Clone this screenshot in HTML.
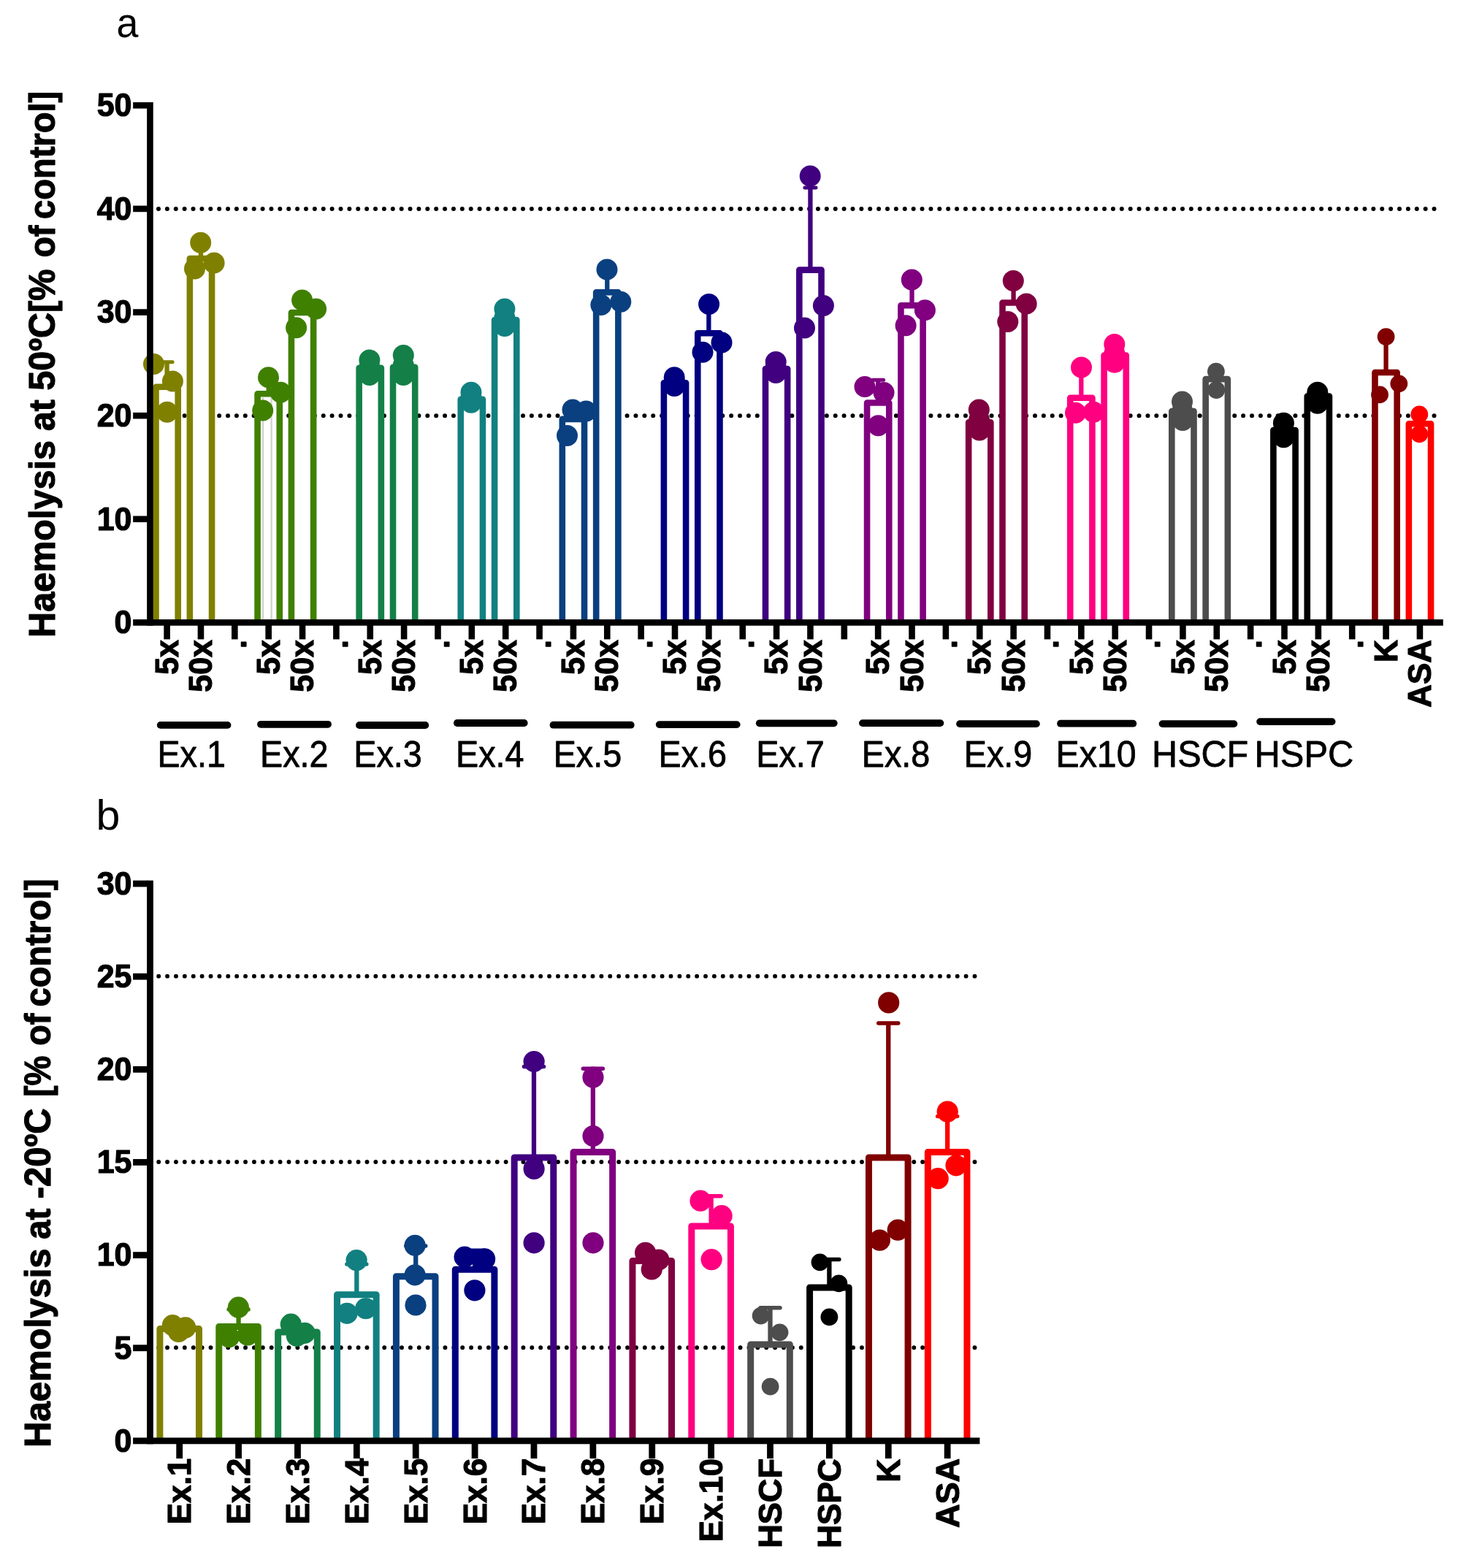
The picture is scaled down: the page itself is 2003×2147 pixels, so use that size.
<!DOCTYPE html>
<html lang="en">
<head>
<meta charset="utf-8">
<title>Haemolysis figure</title>
<style>
html,body{margin:0;padding:0;background:#fff;}
body{width:2003px;height:2147px;overflow:hidden;}
svg{display:block;}
text{font-kerning:none;}
</style>
</head>
<body>
<svg width="2003" height="2147" viewBox="0 0 2003 2147" font-family="'Liberation Sans', sans-serif" fill="#000">
<rect x="0" y="0" width="2003" height="2147" fill="#fff"/>
<text transform="translate(159.62,51.00) scale(0.9344,1)" font-size="57.5" text-anchor="start" >a</text>
<text transform="translate(131.39,1136.10) scale(1.0287,1)" font-size="57.5" text-anchor="start" >b</text>
<line x1="217.00" y1="285.92" x2="1966.00" y2="285.92" stroke="#000" stroke-width="6.0" stroke-linecap="round" stroke-dasharray="0 11.881"/>
<line x1="217.00" y1="569.16" x2="1966.00" y2="569.16" stroke="#000" stroke-width="6.0" stroke-linecap="round" stroke-dasharray="0 11.881"/>
<path d="M213.50,852.40 V529.70 H243.70 V852.40" fill="#fff" stroke="#808000" stroke-width="8.6" stroke-linejoin="round"/>
<path d="M228.60,529.70 V495.80" fill="none" stroke="#808000" stroke-width="6.3"/>
<path d="M221.10,495.80 H236.10" fill="none" stroke="#808000" stroke-width="5.0" stroke-linecap="round"/>
<circle cx="210.50" cy="498.40" r="14.5" fill="#808000"/>
<circle cx="236.40" cy="522.10" r="14.5" fill="#808000"/>
<circle cx="228.80" cy="564.20" r="14.5" fill="#808000"/>
<path d="M259.86,852.40 V354.10 H290.06 V852.40" fill="#fff" stroke="#808000" stroke-width="8.6" stroke-linejoin="round"/>
<path d="M274.96,354.10 V336.00" fill="none" stroke="#808000" stroke-width="6.3"/>
<path d="M267.46,336.00 H282.46" fill="none" stroke="#808000" stroke-width="5.0" stroke-linecap="round"/>
<circle cx="274.70" cy="332.30" r="14.5" fill="#808000"/>
<circle cx="266.50" cy="367.90" r="14.5" fill="#808000"/>
<circle cx="293.10" cy="359.90" r="14.5" fill="#808000"/>
<path d="M352.58,852.40 V539.30 H382.78 V852.40" fill="#fff" stroke="#408000" stroke-width="8.6" stroke-linejoin="round"/>
<rect x="359.0" y="543.30" width="2.2" height="305.10" fill="#d2d2d2"/>
<rect x="370.4" y="543.30" width="2.4" height="305.10" fill="#d2d2d2"/>
<path d="M367.68,539.30 V519.00" fill="none" stroke="#408000" stroke-width="6.3"/>
<path d="M360.18,519.00 H375.18" fill="none" stroke="#408000" stroke-width="5.0" stroke-linecap="round"/>
<circle cx="367.50" cy="516.70" r="14.5" fill="#408000"/>
<circle cx="359.70" cy="562.00" r="14.5" fill="#408000"/>
<circle cx="384.10" cy="537.20" r="14.5" fill="#408000"/>
<path d="M398.94,852.40 V428.00 H429.14 V852.40" fill="#fff" stroke="#408000" stroke-width="8.6" stroke-linejoin="round"/>
<path d="M414.04,428.00 V414.00" fill="none" stroke="#408000" stroke-width="6.3"/>
<path d="M406.54,414.00 H421.54" fill="none" stroke="#408000" stroke-width="5.0" stroke-linecap="round"/>
<circle cx="413.60" cy="411.00" r="14.5" fill="#408000"/>
<circle cx="405.60" cy="448.80" r="14.5" fill="#408000"/>
<circle cx="432.60" cy="422.90" r="14.5" fill="#408000"/>
<path d="M491.66,852.40 V503.80 H521.86 V852.40" fill="#fff" stroke="#148048" stroke-width="8.6" stroke-linejoin="round"/>
<circle cx="505.90" cy="493.00" r="14.5" fill="#148048"/>
<circle cx="505.90" cy="503.00" r="14.5" fill="#148048"/>
<circle cx="505.90" cy="513.50" r="14.5" fill="#148048"/>
<path d="M538.02,852.40 V502.70 H568.22 V852.40" fill="#fff" stroke="#148048" stroke-width="8.6" stroke-linejoin="round"/>
<circle cx="552.30" cy="486.50" r="14.5" fill="#148048"/>
<circle cx="552.30" cy="500.00" r="14.5" fill="#148048"/>
<circle cx="552.30" cy="513.50" r="14.5" fill="#148048"/>
<path d="M630.74,852.40 V546.90 H660.94 V852.40" fill="#fff" stroke="#128080" stroke-width="8.6" stroke-linejoin="round"/>
<circle cx="645.00" cy="537.20" r="14.5" fill="#128080"/>
<circle cx="645.00" cy="544.00" r="14.5" fill="#128080"/>
<circle cx="645.00" cy="551.20" r="14.5" fill="#128080"/>
<path d="M677.10,852.40 V438.00 H707.30 V852.40" fill="#fff" stroke="#128080" stroke-width="8.6" stroke-linejoin="round"/>
<circle cx="690.90" cy="422.90" r="14.5" fill="#128080"/>
<circle cx="690.90" cy="435.00" r="14.5" fill="#128080"/>
<circle cx="690.90" cy="446.60" r="14.5" fill="#128080"/>
<path d="M769.82,852.40 V573.90 H800.02 V852.40" fill="#fff" stroke="#0A4080" stroke-width="8.6" stroke-linejoin="round"/>
<circle cx="784.00" cy="560.90" r="14.5" fill="#0A4080"/>
<circle cx="802.40" cy="563.00" r="14.5" fill="#0A4080"/>
<circle cx="776.50" cy="596.50" r="14.5" fill="#0A4080"/>
<path d="M816.18,852.40 V400.30 H846.38 V852.40" fill="#fff" stroke="#0A4080" stroke-width="8.6" stroke-linejoin="round"/>
<path d="M831.28,400.30 V369.00" fill="none" stroke="#0A4080" stroke-width="6.3"/>
<path d="M823.78,369.00 H838.78" fill="none" stroke="#0A4080" stroke-width="5.0" stroke-linecap="round"/>
<circle cx="831.00" cy="369.00" r="14.5" fill="#0A4080"/>
<circle cx="822.90" cy="417.50" r="14.5" fill="#0A4080"/>
<circle cx="849.80" cy="413.20" r="14.5" fill="#0A4080"/>
<path d="M908.90,852.40 V524.30 H939.10 V852.40" fill="#fff" stroke="#000080" stroke-width="8.6" stroke-linejoin="round"/>
<circle cx="923.20" cy="516.70" r="14.5" fill="#000080"/>
<circle cx="923.20" cy="522.00" r="14.5" fill="#000080"/>
<circle cx="923.20" cy="528.60" r="14.5" fill="#000080"/>
<path d="M955.26,852.40 V456.30 H985.46 V852.40" fill="#fff" stroke="#000080" stroke-width="8.6" stroke-linejoin="round"/>
<path d="M970.36,456.30 V416.40" fill="none" stroke="#000080" stroke-width="6.3"/>
<path d="M962.86,416.40 H977.86" fill="none" stroke="#000080" stroke-width="5.0" stroke-linecap="round"/>
<circle cx="970.60" cy="416.40" r="14.5" fill="#000080"/>
<circle cx="962.00" cy="482.20" r="14.5" fill="#000080"/>
<circle cx="988.00" cy="469.00" r="14.5" fill="#000080"/>
<path d="M1047.98,852.40 V505.10 H1078.18 V852.40" fill="#fff" stroke="#400080" stroke-width="8.6" stroke-linejoin="round"/>
<circle cx="1062.20" cy="495.40" r="14.5" fill="#400080"/>
<circle cx="1062.20" cy="503.00" r="14.5" fill="#400080"/>
<circle cx="1062.20" cy="510.50" r="14.5" fill="#400080"/>
<path d="M1094.34,852.40 V369.60 H1124.54 V852.40" fill="#fff" stroke="#400080" stroke-width="8.6" stroke-linejoin="round"/>
<path d="M1109.44,369.60 V257.10" fill="none" stroke="#400080" stroke-width="6.3"/>
<path d="M1101.94,257.10 H1116.94" fill="none" stroke="#400080" stroke-width="5.0" stroke-linecap="round"/>
<circle cx="1109.20" cy="241.00" r="14.5" fill="#400080"/>
<circle cx="1127.40" cy="418.40" r="14.5" fill="#400080"/>
<circle cx="1101.50" cy="449.00" r="14.5" fill="#400080"/>
<path d="M1187.06,852.40 V551.50 H1217.26 V852.40" fill="#fff" stroke="#800080" stroke-width="8.6" stroke-linejoin="round"/>
<path d="M1202.16,551.50 V520.20" fill="none" stroke="#800080" stroke-width="6.3"/>
<path d="M1194.66,520.20 H1209.66" fill="none" stroke="#800080" stroke-width="5.0" stroke-linecap="round"/>
<circle cx="1184.00" cy="529.50" r="14.5" fill="#800080"/>
<circle cx="1210.00" cy="537.50" r="14.5" fill="#800080"/>
<circle cx="1202.40" cy="582.80" r="14.5" fill="#800080"/>
<path d="M1233.42,852.40 V418.30 H1263.62 V852.40" fill="#fff" stroke="#800080" stroke-width="8.6" stroke-linejoin="round"/>
<path d="M1248.52,418.30 V383.00" fill="none" stroke="#800080" stroke-width="6.3"/>
<path d="M1241.02,383.00 H1256.02" fill="none" stroke="#800080" stroke-width="5.0" stroke-linecap="round"/>
<circle cx="1248.30" cy="382.90" r="14.5" fill="#800080"/>
<circle cx="1240.10" cy="445.80" r="14.5" fill="#800080"/>
<circle cx="1266.40" cy="424.70" r="14.5" fill="#800080"/>
<path d="M1326.14,852.40 V578.20 H1356.34 V852.40" fill="#fff" stroke="#800040" stroke-width="8.6" stroke-linejoin="round"/>
<circle cx="1340.30" cy="560.90" r="14.5" fill="#800040"/>
<circle cx="1340.60" cy="575.00" r="14.5" fill="#800040"/>
<circle cx="1341.00" cy="589.00" r="14.5" fill="#800040"/>
<path d="M1372.50,852.40 V414.50 H1402.70 V852.40" fill="#fff" stroke="#800040" stroke-width="8.6" stroke-linejoin="round"/>
<path d="M1387.60,414.50 V385.00" fill="none" stroke="#800040" stroke-width="6.3"/>
<path d="M1380.10,385.00 H1395.10" fill="none" stroke="#800040" stroke-width="5.0" stroke-linecap="round"/>
<circle cx="1387.30" cy="384.50" r="14.5" fill="#800040"/>
<circle cx="1379.80" cy="440.60" r="14.5" fill="#800040"/>
<circle cx="1405.20" cy="416.00" r="14.5" fill="#800040"/>
<path d="M1465.22,852.40 V544.70 H1495.42 V852.40" fill="#fff" stroke="#FF0080" stroke-width="8.6" stroke-linejoin="round"/>
<path d="M1480.32,544.70 V503.00" fill="none" stroke="#FF0080" stroke-width="6.3"/>
<path d="M1472.82,503.00 H1487.82" fill="none" stroke="#FF0080" stroke-width="5.0" stroke-linecap="round"/>
<circle cx="1480.50" cy="503.10" r="14.5" fill="#FF0080"/>
<circle cx="1472.50" cy="565.20" r="14.5" fill="#FF0080"/>
<circle cx="1497.30" cy="564.20" r="14.5" fill="#FF0080"/>
<path d="M1511.58,852.40 V486.50 H1541.78 V852.40" fill="#fff" stroke="#FF0080" stroke-width="8.6" stroke-linejoin="round"/>
<circle cx="1525.80" cy="471.40" r="14.5" fill="#FF0080"/>
<circle cx="1525.80" cy="484.00" r="14.5" fill="#FF0080"/>
<circle cx="1525.80" cy="496.20" r="14.5" fill="#FF0080"/>
<path d="M1604.30,852.40 V563.10 H1634.50 V852.40" fill="#fff" stroke="#4D4D4D" stroke-width="8.6" stroke-linejoin="round"/>
<circle cx="1618.50" cy="550.10" r="14.5" fill="#4D4D4D"/>
<circle cx="1618.80" cy="563.00" r="14.5" fill="#4D4D4D"/>
<circle cx="1619.20" cy="575.50" r="14.5" fill="#4D4D4D"/>
<path d="M1650.66,852.40 V519.10 H1680.86 V852.40" fill="#fff" stroke="#4D4D4D" stroke-width="8.6" stroke-linejoin="round"/>
<circle cx="1664.90" cy="508.70" r="11.9" fill="#4D4D4D"/>
<circle cx="1665.30" cy="534.00" r="11.9" fill="#4D4D4D"/>
<path d="M1743.38,852.40 V589.00 H1773.58 V852.40" fill="#fff" stroke="#000000" stroke-width="8.6" stroke-linejoin="round"/>
<circle cx="1757.40" cy="579.20" r="14.5" fill="#000000"/>
<circle cx="1757.40" cy="589.00" r="14.5" fill="#000000"/>
<circle cx="1757.40" cy="598.70" r="14.5" fill="#000000"/>
<path d="M1789.74,852.40 V542.60 H1819.94 V852.40" fill="#fff" stroke="#000000" stroke-width="8.6" stroke-linejoin="round"/>
<circle cx="1803.80" cy="537.20" r="14.5" fill="#000000"/>
<circle cx="1803.80" cy="545.00" r="14.5" fill="#000000"/>
<circle cx="1803.80" cy="552.30" r="14.5" fill="#000000"/>
<path d="M1882.46,852.40 V510.00 H1912.66 V852.40" fill="#fff" stroke="#800000" stroke-width="8.6" stroke-linejoin="round"/>
<path d="M1897.56,510.00 V461.00" fill="none" stroke="#800000" stroke-width="6.3"/>
<path d="M1890.06,461.00 H1905.06" fill="none" stroke="#800000" stroke-width="5.0" stroke-linecap="round"/>
<circle cx="1897.60" cy="461.10" r="11.9" fill="#800000"/>
<circle cx="1915.30" cy="525.30" r="11.9" fill="#800000"/>
<circle cx="1889.00" cy="540.40" r="11.9" fill="#800000"/>
<path d="M1928.82,852.40 V580.30 H1959.02 V852.40" fill="#fff" stroke="#FF0000" stroke-width="8.6" stroke-linejoin="round"/>
<circle cx="1943.30" cy="567.40" r="11.9" fill="#FF0000"/>
<circle cx="1943.30" cy="594.30" r="11.9" fill="#FF0000"/>
<rect x="201.15" y="140.00" width="8.6" height="716.70" fill="#000"/>
<rect x="182.15" y="848.10" width="1793.65" height="8.6" fill="#000"/>
<rect x="182.15" y="706.48" width="20.0" height="8.6" fill="#000"/>
<rect x="182.15" y="564.86" width="20.0" height="8.6" fill="#000"/>
<rect x="182.15" y="423.24" width="20.0" height="8.6" fill="#000"/>
<rect x="182.15" y="281.62" width="20.0" height="8.6" fill="#000"/>
<rect x="182.15" y="140.00" width="20.0" height="8.6" fill="#000"/>
<text transform="translate(180.50,867.20) scale(0.963,1)" font-size="44.6" font-weight="bold" stroke="#000" stroke-width="1.2" stroke-linejoin="round" text-anchor="end" >0</text>
<text transform="translate(180.50,725.58) scale(0.963,1)" font-size="44.6" font-weight="bold" stroke="#000" stroke-width="1.2" stroke-linejoin="round" text-anchor="end" >10</text>
<text transform="translate(180.50,583.96) scale(0.963,1)" font-size="44.6" font-weight="bold" stroke="#000" stroke-width="1.2" stroke-linejoin="round" text-anchor="end" >20</text>
<text transform="translate(180.50,442.34) scale(0.963,1)" font-size="44.6" font-weight="bold" stroke="#000" stroke-width="1.2" stroke-linejoin="round" text-anchor="end" >30</text>
<text transform="translate(180.50,300.72) scale(0.963,1)" font-size="44.6" font-weight="bold" stroke="#000" stroke-width="1.2" stroke-linejoin="round" text-anchor="end" >40</text>
<text transform="translate(180.50,159.10) scale(0.963,1)" font-size="44.6" font-weight="bold" stroke="#000" stroke-width="1.2" stroke-linejoin="round" text-anchor="end" >50</text>
<rect x="224.30" y="852.40" width="8.6" height="23.0" fill="#000"/>
<rect x="270.66" y="852.40" width="8.6" height="23.0" fill="#000"/>
<rect x="317.02" y="852.40" width="8.6" height="23.0" fill="#000"/>
<rect x="363.38" y="852.40" width="8.6" height="23.0" fill="#000"/>
<rect x="409.74" y="852.40" width="8.6" height="23.0" fill="#000"/>
<rect x="456.10" y="852.40" width="8.6" height="23.0" fill="#000"/>
<rect x="502.46" y="852.40" width="8.6" height="23.0" fill="#000"/>
<rect x="548.82" y="852.40" width="8.6" height="23.0" fill="#000"/>
<rect x="595.18" y="852.40" width="8.6" height="23.0" fill="#000"/>
<rect x="641.54" y="852.40" width="8.6" height="23.0" fill="#000"/>
<rect x="687.90" y="852.40" width="8.6" height="23.0" fill="#000"/>
<rect x="734.26" y="852.40" width="8.6" height="23.0" fill="#000"/>
<rect x="780.62" y="852.40" width="8.6" height="23.0" fill="#000"/>
<rect x="826.98" y="852.40" width="8.6" height="23.0" fill="#000"/>
<rect x="873.34" y="852.40" width="8.6" height="23.0" fill="#000"/>
<rect x="919.70" y="852.40" width="8.6" height="23.0" fill="#000"/>
<rect x="966.06" y="852.40" width="8.6" height="23.0" fill="#000"/>
<rect x="1012.42" y="852.40" width="8.6" height="23.0" fill="#000"/>
<rect x="1058.78" y="852.40" width="8.6" height="23.0" fill="#000"/>
<rect x="1105.14" y="852.40" width="8.6" height="23.0" fill="#000"/>
<rect x="1151.50" y="852.40" width="8.6" height="23.0" fill="#000"/>
<rect x="1197.86" y="852.40" width="8.6" height="23.0" fill="#000"/>
<rect x="1244.22" y="852.40" width="8.6" height="23.0" fill="#000"/>
<rect x="1290.58" y="852.40" width="8.6" height="23.0" fill="#000"/>
<rect x="1336.94" y="852.40" width="8.6" height="23.0" fill="#000"/>
<rect x="1383.30" y="852.40" width="8.6" height="23.0" fill="#000"/>
<rect x="1429.66" y="852.40" width="8.6" height="23.0" fill="#000"/>
<rect x="1476.02" y="852.40" width="8.6" height="23.0" fill="#000"/>
<rect x="1522.38" y="852.40" width="8.6" height="23.0" fill="#000"/>
<rect x="1568.74" y="852.40" width="8.6" height="23.0" fill="#000"/>
<rect x="1615.10" y="852.40" width="8.6" height="23.0" fill="#000"/>
<rect x="1661.46" y="852.40" width="8.6" height="23.0" fill="#000"/>
<rect x="1707.82" y="852.40" width="8.6" height="23.0" fill="#000"/>
<rect x="1754.18" y="852.40" width="8.6" height="23.0" fill="#000"/>
<rect x="1800.54" y="852.40" width="8.6" height="23.0" fill="#000"/>
<rect x="1846.90" y="852.40" width="8.6" height="23.0" fill="#000"/>
<rect x="1893.26" y="852.40" width="8.6" height="23.0" fill="#000"/>
<rect x="1939.62" y="852.40" width="8.6" height="23.0" fill="#000"/>
<text transform="translate(243.80,876.10) rotate(-90) scale(0.963,1)" font-size="44.6" font-weight="bold" stroke="#000" stroke-width="1.2" stroke-linejoin="round" text-anchor="end" >5x</text>
<text transform="translate(290.16,876.10) rotate(-90) scale(0.963,1)" font-size="44.6" font-weight="bold" stroke="#000" stroke-width="1.2" stroke-linejoin="round" text-anchor="end" >50x</text>
<text transform="translate(336.52,876.10) rotate(-90) scale(0.963,1)" font-size="44.6" font-weight="bold" stroke="#000" stroke-width="1.2" stroke-linejoin="round" text-anchor="end" >.</text>
<text transform="translate(382.88,876.10) rotate(-90) scale(0.963,1)" font-size="44.6" font-weight="bold" stroke="#000" stroke-width="1.2" stroke-linejoin="round" text-anchor="end" >5x</text>
<text transform="translate(429.24,876.10) rotate(-90) scale(0.963,1)" font-size="44.6" font-weight="bold" stroke="#000" stroke-width="1.2" stroke-linejoin="round" text-anchor="end" >50x</text>
<text transform="translate(475.60,876.10) rotate(-90) scale(0.963,1)" font-size="44.6" font-weight="bold" stroke="#000" stroke-width="1.2" stroke-linejoin="round" text-anchor="end" >.</text>
<text transform="translate(521.96,876.10) rotate(-90) scale(0.963,1)" font-size="44.6" font-weight="bold" stroke="#000" stroke-width="1.2" stroke-linejoin="round" text-anchor="end" >5x</text>
<text transform="translate(568.32,876.10) rotate(-90) scale(0.963,1)" font-size="44.6" font-weight="bold" stroke="#000" stroke-width="1.2" stroke-linejoin="round" text-anchor="end" >50x</text>
<text transform="translate(614.68,876.10) rotate(-90) scale(0.963,1)" font-size="44.6" font-weight="bold" stroke="#000" stroke-width="1.2" stroke-linejoin="round" text-anchor="end" >.</text>
<text transform="translate(661.04,876.10) rotate(-90) scale(0.963,1)" font-size="44.6" font-weight="bold" stroke="#000" stroke-width="1.2" stroke-linejoin="round" text-anchor="end" >5x</text>
<text transform="translate(707.40,876.10) rotate(-90) scale(0.963,1)" font-size="44.6" font-weight="bold" stroke="#000" stroke-width="1.2" stroke-linejoin="round" text-anchor="end" >50x</text>
<text transform="translate(753.76,876.10) rotate(-90) scale(0.963,1)" font-size="44.6" font-weight="bold" stroke="#000" stroke-width="1.2" stroke-linejoin="round" text-anchor="end" >.</text>
<text transform="translate(800.12,876.10) rotate(-90) scale(0.963,1)" font-size="44.6" font-weight="bold" stroke="#000" stroke-width="1.2" stroke-linejoin="round" text-anchor="end" >5x</text>
<text transform="translate(846.48,876.10) rotate(-90) scale(0.963,1)" font-size="44.6" font-weight="bold" stroke="#000" stroke-width="1.2" stroke-linejoin="round" text-anchor="end" >50x</text>
<text transform="translate(892.84,876.10) rotate(-90) scale(0.963,1)" font-size="44.6" font-weight="bold" stroke="#000" stroke-width="1.2" stroke-linejoin="round" text-anchor="end" >.</text>
<text transform="translate(939.20,876.10) rotate(-90) scale(0.963,1)" font-size="44.6" font-weight="bold" stroke="#000" stroke-width="1.2" stroke-linejoin="round" text-anchor="end" >5x</text>
<text transform="translate(985.56,876.10) rotate(-90) scale(0.963,1)" font-size="44.6" font-weight="bold" stroke="#000" stroke-width="1.2" stroke-linejoin="round" text-anchor="end" >50x</text>
<text transform="translate(1031.92,876.10) rotate(-90) scale(0.963,1)" font-size="44.6" font-weight="bold" stroke="#000" stroke-width="1.2" stroke-linejoin="round" text-anchor="end" >.</text>
<text transform="translate(1078.28,876.10) rotate(-90) scale(0.963,1)" font-size="44.6" font-weight="bold" stroke="#000" stroke-width="1.2" stroke-linejoin="round" text-anchor="end" >5x</text>
<text transform="translate(1124.64,876.10) rotate(-90) scale(0.963,1)" font-size="44.6" font-weight="bold" stroke="#000" stroke-width="1.2" stroke-linejoin="round" text-anchor="end" >50x</text>
<text transform="translate(1217.36,876.10) rotate(-90) scale(0.963,1)" font-size="44.6" font-weight="bold" stroke="#000" stroke-width="1.2" stroke-linejoin="round" text-anchor="end" >5x</text>
<text transform="translate(1263.72,876.10) rotate(-90) scale(0.963,1)" font-size="44.6" font-weight="bold" stroke="#000" stroke-width="1.2" stroke-linejoin="round" text-anchor="end" >50x</text>
<text transform="translate(1310.08,876.10) rotate(-90) scale(0.963,1)" font-size="44.6" font-weight="bold" stroke="#000" stroke-width="1.2" stroke-linejoin="round" text-anchor="end" >.</text>
<text transform="translate(1356.44,876.10) rotate(-90) scale(0.963,1)" font-size="44.6" font-weight="bold" stroke="#000" stroke-width="1.2" stroke-linejoin="round" text-anchor="end" >5x</text>
<text transform="translate(1402.80,876.10) rotate(-90) scale(0.963,1)" font-size="44.6" font-weight="bold" stroke="#000" stroke-width="1.2" stroke-linejoin="round" text-anchor="end" >50x</text>
<text transform="translate(1449.16,876.10) rotate(-90) scale(0.963,1)" font-size="44.6" font-weight="bold" stroke="#000" stroke-width="1.2" stroke-linejoin="round" text-anchor="end" >.</text>
<text transform="translate(1495.52,876.10) rotate(-90) scale(0.963,1)" font-size="44.6" font-weight="bold" stroke="#000" stroke-width="1.2" stroke-linejoin="round" text-anchor="end" >5x</text>
<text transform="translate(1541.88,876.10) rotate(-90) scale(0.963,1)" font-size="44.6" font-weight="bold" stroke="#000" stroke-width="1.2" stroke-linejoin="round" text-anchor="end" >50x</text>
<text transform="translate(1588.24,876.10) rotate(-90) scale(0.963,1)" font-size="44.6" font-weight="bold" stroke="#000" stroke-width="1.2" stroke-linejoin="round" text-anchor="end" >.</text>
<text transform="translate(1634.60,876.10) rotate(-90) scale(0.963,1)" font-size="44.6" font-weight="bold" stroke="#000" stroke-width="1.2" stroke-linejoin="round" text-anchor="end" >5x</text>
<text transform="translate(1680.96,876.10) rotate(-90) scale(0.963,1)" font-size="44.6" font-weight="bold" stroke="#000" stroke-width="1.2" stroke-linejoin="round" text-anchor="end" >50x</text>
<text transform="translate(1727.32,876.10) rotate(-90) scale(0.963,1)" font-size="44.6" font-weight="bold" stroke="#000" stroke-width="1.2" stroke-linejoin="round" text-anchor="end" >.</text>
<text transform="translate(1773.68,876.10) rotate(-90) scale(0.963,1)" font-size="44.6" font-weight="bold" stroke="#000" stroke-width="1.2" stroke-linejoin="round" text-anchor="end" >5x</text>
<text transform="translate(1820.04,876.10) rotate(-90) scale(0.963,1)" font-size="44.6" font-weight="bold" stroke="#000" stroke-width="1.2" stroke-linejoin="round" text-anchor="end" >50x</text>
<text transform="translate(1866.40,876.10) rotate(-90) scale(0.963,1)" font-size="44.6" font-weight="bold" stroke="#000" stroke-width="1.2" stroke-linejoin="round" text-anchor="end" >.</text>
<text transform="translate(1912.76,876.10) rotate(-90) scale(0.963,1)" font-size="44.6" font-weight="bold" stroke="#000" stroke-width="1.2" stroke-linejoin="round" text-anchor="end" >K</text>
<text transform="translate(1959.12,876.10) rotate(-90) scale(0.985,1)" font-size="44.6" font-weight="bold" stroke="#000" stroke-width="1.2" stroke-linejoin="round" text-anchor="end" >ASA</text>
<line x1="219.70" y1="992.90" x2="311.50" y2="992.90" stroke="#000" stroke-width="9.8" stroke-linecap="round"/>
<text transform="translate(215.40,1049.60) scale(0.92,1)" font-size="50.8" stroke="#000" stroke-width="0.8" stroke-linejoin="round" text-anchor="start" >Ex.1</text>
<line x1="357.00" y1="991.80" x2="449.00" y2="991.80" stroke="#000" stroke-width="9.8" stroke-linecap="round"/>
<text transform="translate(356.00,1049.60) scale(0.92,1)" font-size="50.8" stroke="#000" stroke-width="0.8" stroke-linejoin="round" text-anchor="start" >Ex.2</text>
<line x1="492.00" y1="993.00" x2="582.30" y2="993.00" stroke="#000" stroke-width="9.8" stroke-linecap="round"/>
<text transform="translate(484.30,1049.60) scale(0.92,1)" font-size="50.8" stroke="#000" stroke-width="0.8" stroke-linejoin="round" text-anchor="start" >Ex.3</text>
<line x1="625.90" y1="990.00" x2="717.70" y2="990.00" stroke="#000" stroke-width="9.8" stroke-linecap="round"/>
<text transform="translate(624.00,1049.60) scale(0.92,1)" font-size="50.8" stroke="#000" stroke-width="0.8" stroke-linejoin="round" text-anchor="start" >Ex.4</text>
<line x1="757.50" y1="992.70" x2="863.70" y2="992.70" stroke="#000" stroke-width="9.8" stroke-linecap="round"/>
<text transform="translate(757.70,1049.60) scale(0.92,1)" font-size="50.8" stroke="#000" stroke-width="0.8" stroke-linejoin="round" text-anchor="start" >Ex.5</text>
<line x1="902.70" y1="992.10" x2="1008.70" y2="992.10" stroke="#000" stroke-width="9.8" stroke-linecap="round"/>
<text transform="translate(901.60,1049.60) scale(0.92,1)" font-size="50.8" stroke="#000" stroke-width="0.8" stroke-linejoin="round" text-anchor="start" >Ex.6</text>
<line x1="1039.80" y1="990.30" x2="1141.70" y2="990.30" stroke="#000" stroke-width="9.8" stroke-linecap="round"/>
<text transform="translate(1035.30,1049.60) scale(0.92,1)" font-size="50.8" stroke="#000" stroke-width="0.8" stroke-linejoin="round" text-anchor="start" >Ex.7</text>
<line x1="1180.90" y1="990.10" x2="1287.40" y2="990.10" stroke="#000" stroke-width="9.8" stroke-linecap="round"/>
<text transform="translate(1179.80,1049.60) scale(0.92,1)" font-size="50.8" stroke="#000" stroke-width="0.8" stroke-linejoin="round" text-anchor="start" >Ex.8</text>
<line x1="1314.00" y1="991.10" x2="1418.90" y2="991.10" stroke="#000" stroke-width="9.8" stroke-linecap="round"/>
<text transform="translate(1319.80,1049.60) scale(0.92,1)" font-size="50.8" stroke="#000" stroke-width="0.8" stroke-linejoin="round" text-anchor="start" >Ex.9</text>
<line x1="1452.00" y1="990.70" x2="1551.30" y2="990.70" stroke="#000" stroke-width="9.8" stroke-linecap="round"/>
<text transform="translate(1445.50,1049.60) scale(0.95,1)" font-size="50.8" stroke="#000" stroke-width="0.8" stroke-linejoin="round" text-anchor="start" >Ex10</text>
<line x1="1591.50" y1="991.10" x2="1689.40" y2="991.10" stroke="#000" stroke-width="9.8" stroke-linecap="round"/>
<text transform="translate(1577.10,1049.60) scale(0.955,1)" font-size="50.8" stroke="#000" stroke-width="0.8" stroke-linejoin="round" text-anchor="start" >HSCF</text>
<line x1="1725.10" y1="988.10" x2="1823.60" y2="988.10" stroke="#000" stroke-width="9.8" stroke-linecap="round"/>
<text transform="translate(1717.60,1049.60) scale(0.961,1)" font-size="50.8" stroke="#000" stroke-width="0.8" stroke-linejoin="round" text-anchor="start" >HSPC</text>
<text transform="translate(74.60,872.90) rotate(-90) scale(0.9594,1)" font-size="50.6" font-weight="bold" stroke="#000" stroke-width="1.2" stroke-linejoin="round" text-anchor="start" >Haemolysis</text>
<text transform="translate(74.60,589.96) rotate(-90) scale(0.9512,1)" font-size="50.6" font-weight="bold" stroke="#000" stroke-width="1.2" stroke-linejoin="round" text-anchor="start" >at</text>
<text transform="translate(74.60,534.74) rotate(-90) scale(0.9603,1)" font-size="50.6" font-weight="bold" stroke="#000" stroke-width="1.2" stroke-linejoin="round" text-anchor="start" >50ºC[%</text>
<text transform="translate(74.60,352.57) rotate(-90) scale(0.9198,1)" font-size="50.6" font-weight="bold" stroke="#000" stroke-width="1.2" stroke-linejoin="round" text-anchor="start" >of</text>
<text transform="translate(74.60,299.99) rotate(-90) scale(0.9302,1)" font-size="50.6" font-weight="bold" stroke="#000" stroke-width="1.2" stroke-linejoin="round" text-anchor="start" >control]</text>
<line x1="217.20" y1="1336.65" x2="1337.00" y2="1336.65" stroke="#000" stroke-width="5.9" stroke-linecap="round" stroke-dasharray="0 11.886"/>
<line x1="217.20" y1="1590.95" x2="1337.00" y2="1590.95" stroke="#000" stroke-width="5.9" stroke-linecap="round" stroke-dasharray="0 11.886"/>
<line x1="217.20" y1="1845.25" x2="1337.00" y2="1845.25" stroke="#000" stroke-width="5.9" stroke-linecap="round" stroke-dasharray="0 11.886"/>
<path d="M218.90,1972.90 V1819.50 H272.50 V1972.90" fill="none" stroke="#808000" stroke-width="9.0" stroke-linejoin="round"/>
<circle cx="236.30" cy="1814.70" r="14.6" fill="#808000"/>
<circle cx="253.70" cy="1817.90" r="14.6" fill="#808000"/>
<circle cx="244.50" cy="1823.40" r="14.6" fill="#808000"/>
<path d="M299.78,1972.90 V1816.50 H353.38 V1972.90" fill="none" stroke="#408000" stroke-width="9.0" stroke-linejoin="round"/>
<path d="M326.58,1816.50 V1793.00" fill="none" stroke="#408000" stroke-width="6.3"/>
<path d="M313.08,1793.00 H340.08" fill="none" stroke="#408000" stroke-width="5.5" stroke-linecap="round"/>
<circle cx="326.40" cy="1790.20" r="14.6" fill="#408000"/>
<circle cx="313.40" cy="1830.70" r="14.6" fill="#408000"/>
<circle cx="339.00" cy="1828.00" r="14.6" fill="#408000"/>
<path d="M380.66,1972.90 V1824.00 H434.26 V1972.90" fill="none" stroke="#148048" stroke-width="9.0" stroke-linejoin="round"/>
<circle cx="398.30" cy="1813.20" r="14.6" fill="#148048"/>
<circle cx="406.40" cy="1829.30" r="14.6" fill="#148048"/>
<circle cx="417.20" cy="1825.30" r="14.6" fill="#148048"/>
<path d="M461.54,1972.90 V1772.70 H515.14 V1972.90" fill="none" stroke="#128080" stroke-width="9.0" stroke-linejoin="round"/>
<path d="M488.34,1772.70 V1731.00" fill="none" stroke="#128080" stroke-width="6.3"/>
<path d="M474.84,1731.00 H501.84" fill="none" stroke="#128080" stroke-width="5.5" stroke-linecap="round"/>
<circle cx="488.10" cy="1725.60" r="14.6" fill="#128080"/>
<circle cx="475.10" cy="1798.30" r="14.6" fill="#128080"/>
<circle cx="500.80" cy="1791.60" r="14.6" fill="#128080"/>
<path d="M542.42,1972.90 V1747.80 H596.02 V1972.90" fill="none" stroke="#0A4080" stroke-width="9.0" stroke-linejoin="round"/>
<path d="M569.22,1747.80 V1706.00" fill="none" stroke="#0A4080" stroke-width="6.3"/>
<path d="M555.72,1706.00 H582.72" fill="none" stroke="#0A4080" stroke-width="5.5" stroke-linecap="round"/>
<circle cx="568.10" cy="1705.30" r="14.6" fill="#0A4080"/>
<circle cx="568.10" cy="1745.80" r="14.6" fill="#0A4080"/>
<circle cx="569.00" cy="1787.00" r="14.6" fill="#0A4080"/>
<path d="M623.30,1972.90 V1738.20 H676.90 V1972.90" fill="none" stroke="#000080" stroke-width="9.0" stroke-linejoin="round"/>
<path d="M650.10,1738.20 V1712.30" fill="none" stroke="#000080" stroke-width="6.3"/>
<path d="M636.60,1712.30 H663.60" fill="none" stroke="#000080" stroke-width="5.5" stroke-linecap="round"/>
<circle cx="636.10" cy="1721.20" r="14.6" fill="#000080"/>
<circle cx="663.60" cy="1723.90" r="14.6" fill="#000080"/>
<circle cx="649.90" cy="1766.80" r="14.6" fill="#000080"/>
<path d="M704.18,1972.90 V1585.00 H757.78 V1972.90" fill="none" stroke="#400080" stroke-width="9.0" stroke-linejoin="round"/>
<path d="M730.98,1585.00 V1460.60" fill="none" stroke="#400080" stroke-width="6.3"/>
<path d="M717.48,1460.60 H744.48" fill="none" stroke="#400080" stroke-width="5.5" stroke-linecap="round"/>
<circle cx="731.10" cy="1453.50" r="14.6" fill="#400080"/>
<circle cx="731.10" cy="1600.40" r="14.6" fill="#400080"/>
<circle cx="731.10" cy="1701.80" r="14.6" fill="#400080"/>
<path d="M785.06,1972.90 V1577.60 H838.66 V1972.90" fill="none" stroke="#800080" stroke-width="9.0" stroke-linejoin="round"/>
<path d="M811.86,1577.60 V1463.20" fill="none" stroke="#800080" stroke-width="6.3"/>
<path d="M798.36,1463.20 H825.36" fill="none" stroke="#800080" stroke-width="5.5" stroke-linecap="round"/>
<circle cx="812.00" cy="1475.10" r="14.6" fill="#800080"/>
<circle cx="812.00" cy="1555.50" r="14.6" fill="#800080"/>
<circle cx="812.00" cy="1701.80" r="14.6" fill="#800080"/>
<path d="M865.94,1972.90 V1726.50 H919.54 V1972.90" fill="none" stroke="#800040" stroke-width="9.0" stroke-linejoin="round"/>
<circle cx="883.60" cy="1715.40" r="14.6" fill="#800040"/>
<circle cx="901.90" cy="1725.00" r="14.6" fill="#800040"/>
<circle cx="892.20" cy="1738.00" r="14.6" fill="#800040"/>
<path d="M946.82,1972.90 V1679.00 H1000.42 V1972.90" fill="none" stroke="#FF0080" stroke-width="9.0" stroke-linejoin="round"/>
<path d="M973.62,1679.00 V1637.70" fill="none" stroke="#FF0080" stroke-width="6.3"/>
<path d="M960.12,1637.70 H987.12" fill="none" stroke="#FF0080" stroke-width="5.5" stroke-linecap="round"/>
<circle cx="959.00" cy="1644.20" r="14.6" fill="#FF0080"/>
<circle cx="988.10" cy="1664.70" r="14.6" fill="#FF0080"/>
<circle cx="974.10" cy="1724.60" r="14.6" fill="#FF0080"/>
<path d="M1027.70,1972.90 V1841.00 H1081.30 V1972.90" fill="none" stroke="#4D4D4D" stroke-width="9.0" stroke-linejoin="round"/>
<path d="M1054.50,1841.00 V1790.80" fill="none" stroke="#4D4D4D" stroke-width="6.3"/>
<path d="M1041.00,1790.80 H1068.00" fill="none" stroke="#4D4D4D" stroke-width="5.5" stroke-linecap="round"/>
<circle cx="1041.60" cy="1801.60" r="11.9" fill="#4D4D4D"/>
<circle cx="1067.50" cy="1824.30" r="11.9" fill="#4D4D4D"/>
<circle cx="1054.60" cy="1898.70" r="11.9" fill="#4D4D4D"/>
<path d="M1108.58,1972.90 V1763.00 H1162.18 V1972.90" fill="#fff" stroke="#000000" stroke-width="9.0" stroke-linejoin="round"/>
<path d="M1135.38,1763.00 V1724.60" fill="none" stroke="#000000" stroke-width="6.3"/>
<path d="M1121.88,1724.60 H1148.88" fill="none" stroke="#000000" stroke-width="5.5" stroke-linecap="round"/>
<circle cx="1122.50" cy="1728.30" r="11.9" fill="#000000"/>
<circle cx="1148.40" cy="1757.40" r="11.9" fill="#000000"/>
<circle cx="1135.40" cy="1803.30" r="11.9" fill="#000000"/>
<path d="M1189.46,1972.90 V1585.00 H1243.06 V1972.90" fill="#fff" stroke="#800000" stroke-width="9.0" stroke-linejoin="round"/>
<path d="M1216.26,1585.00 V1400.90" fill="none" stroke="#800000" stroke-width="6.3"/>
<path d="M1202.76,1400.90 H1229.76" fill="none" stroke="#800000" stroke-width="5.5" stroke-linecap="round"/>
<circle cx="1216.70" cy="1372.90" r="14.6" fill="#800000"/>
<circle cx="1204.40" cy="1698.10" r="14.6" fill="#800000"/>
<circle cx="1229.20" cy="1684.10" r="14.6" fill="#800000"/>
<path d="M1270.34,1972.90 V1577.40 H1323.94 V1972.90" fill="#fff" stroke="#FF0000" stroke-width="9.0" stroke-linejoin="round"/>
<path d="M1297.14,1577.40 V1528.60" fill="none" stroke="#FF0000" stroke-width="6.3"/>
<path d="M1283.64,1528.60 H1310.64" fill="none" stroke="#FF0000" stroke-width="5.5" stroke-linecap="round"/>
<circle cx="1297.20" cy="1522.10" r="14.6" fill="#FF0000"/>
<circle cx="1284.20" cy="1613.70" r="14.6" fill="#FF0000"/>
<circle cx="1309.00" cy="1595.80" r="14.6" fill="#FF0000"/>
<rect x="201.10" y="1205.60" width="8.8" height="771.70" fill="#000"/>
<rect x="182.10" y="1968.50" width="1159.30" height="8.8" fill="#000"/>
<rect x="182.10" y="1841.35" width="20.0" height="8.8" fill="#000"/>
<rect x="182.10" y="1714.20" width="20.0" height="8.8" fill="#000"/>
<rect x="182.10" y="1587.05" width="20.0" height="8.8" fill="#000"/>
<rect x="182.10" y="1459.90" width="20.0" height="8.8" fill="#000"/>
<rect x="182.10" y="1332.75" width="20.0" height="8.8" fill="#000"/>
<rect x="182.10" y="1205.60" width="20.0" height="8.8" fill="#000"/>
<text transform="translate(180.50,1987.70) scale(0.963,1)" font-size="44.6" font-weight="bold" stroke="#000" stroke-width="1.2" stroke-linejoin="round" text-anchor="end" >0</text>
<text transform="translate(180.50,1860.55) scale(0.963,1)" font-size="44.6" font-weight="bold" stroke="#000" stroke-width="1.2" stroke-linejoin="round" text-anchor="end" >5</text>
<text transform="translate(180.50,1733.40) scale(0.963,1)" font-size="44.6" font-weight="bold" stroke="#000" stroke-width="1.2" stroke-linejoin="round" text-anchor="end" >10</text>
<text transform="translate(180.50,1606.25) scale(0.963,1)" font-size="44.6" font-weight="bold" stroke="#000" stroke-width="1.2" stroke-linejoin="round" text-anchor="end" >15</text>
<text transform="translate(180.50,1479.10) scale(0.963,1)" font-size="44.6" font-weight="bold" stroke="#000" stroke-width="1.2" stroke-linejoin="round" text-anchor="end" >20</text>
<text transform="translate(180.50,1351.95) scale(0.963,1)" font-size="44.6" font-weight="bold" stroke="#000" stroke-width="1.2" stroke-linejoin="round" text-anchor="end" >25</text>
<text transform="translate(180.50,1224.80) scale(0.963,1)" font-size="44.6" font-weight="bold" stroke="#000" stroke-width="1.2" stroke-linejoin="round" text-anchor="end" >30</text>
<rect x="241.30" y="1972.90" width="8.8" height="24.2" fill="#000"/>
<text transform="translate(261.10,2087.30) rotate(-90) scale(0.9876,1)" font-size="44.6" font-weight="bold" stroke="#000" stroke-width="1.2" stroke-linejoin="round" text-anchor="start" >Ex.1</text>
<rect x="322.18" y="1972.90" width="8.8" height="24.2" fill="#000"/>
<text transform="translate(341.98,2087.30) rotate(-90) scale(0.9876,1)" font-size="44.6" font-weight="bold" stroke="#000" stroke-width="1.2" stroke-linejoin="round" text-anchor="start" >Ex.2</text>
<rect x="403.06" y="1972.90" width="8.8" height="24.2" fill="#000"/>
<text transform="translate(422.86,2087.30) rotate(-90) scale(0.9876,1)" font-size="44.6" font-weight="bold" stroke="#000" stroke-width="1.2" stroke-linejoin="round" text-anchor="start" >Ex.3</text>
<rect x="483.94" y="1972.90" width="8.8" height="24.2" fill="#000"/>
<text transform="translate(503.74,2087.30) rotate(-90) scale(0.9876,1)" font-size="44.6" font-weight="bold" stroke="#000" stroke-width="1.2" stroke-linejoin="round" text-anchor="start" >Ex.4</text>
<rect x="564.82" y="1972.90" width="8.8" height="24.2" fill="#000"/>
<text transform="translate(584.62,2087.30) rotate(-90) scale(0.9876,1)" font-size="44.6" font-weight="bold" stroke="#000" stroke-width="1.2" stroke-linejoin="round" text-anchor="start" >Ex.5</text>
<rect x="645.70" y="1972.90" width="8.8" height="24.2" fill="#000"/>
<text transform="translate(665.50,2087.30) rotate(-90) scale(0.9876,1)" font-size="44.6" font-weight="bold" stroke="#000" stroke-width="1.2" stroke-linejoin="round" text-anchor="start" >Ex.6</text>
<rect x="726.58" y="1972.90" width="8.8" height="24.2" fill="#000"/>
<text transform="translate(746.38,2087.30) rotate(-90) scale(0.9876,1)" font-size="44.6" font-weight="bold" stroke="#000" stroke-width="1.2" stroke-linejoin="round" text-anchor="start" >Ex.7</text>
<rect x="807.46" y="1972.90" width="8.8" height="24.2" fill="#000"/>
<text transform="translate(827.26,2087.30) rotate(-90) scale(0.9876,1)" font-size="44.6" font-weight="bold" stroke="#000" stroke-width="1.2" stroke-linejoin="round" text-anchor="start" >Ex.8</text>
<rect x="888.34" y="1972.90" width="8.8" height="24.2" fill="#000"/>
<text transform="translate(908.14,2087.30) rotate(-90) scale(0.9876,1)" font-size="44.6" font-weight="bold" stroke="#000" stroke-width="1.2" stroke-linejoin="round" text-anchor="start" >Ex.9</text>
<rect x="969.22" y="1972.90" width="8.8" height="24.2" fill="#000"/>
<text transform="translate(989.02,2111.18) rotate(-90) scale(0.9809,1)" font-size="44.6" font-weight="bold" stroke="#000" stroke-width="1.2" stroke-linejoin="round" text-anchor="start" >Ex.10</text>
<rect x="1050.10" y="1972.90" width="8.8" height="24.2" fill="#000"/>
<text transform="translate(1069.90,2119.77) rotate(-90) scale(1.0112,1)" font-size="44.6" font-weight="bold" stroke="#000" stroke-width="1.2" stroke-linejoin="round" text-anchor="start" >HSCF</text>
<rect x="1130.98" y="1972.90" width="8.8" height="24.2" fill="#000"/>
<text transform="translate(1150.78,2119.69) rotate(-90) scale(0.9866,1)" font-size="44.6" font-weight="bold" stroke="#000" stroke-width="1.2" stroke-linejoin="round" text-anchor="start" >HSPC</text>
<rect x="1211.86" y="1972.90" width="8.8" height="24.2" fill="#000"/>
<text transform="translate(1231.66,2029.39) rotate(-90) scale(0.9857,1)" font-size="44.6" font-weight="bold" stroke="#000" stroke-width="1.2" stroke-linejoin="round" text-anchor="start" >K</text>
<rect x="1292.74" y="1972.90" width="8.8" height="24.2" fill="#000"/>
<text transform="translate(1312.54,2091.97) rotate(-90) scale(1.01,1)" font-size="44.6" font-weight="bold" stroke="#000" stroke-width="1.2" stroke-linejoin="round" text-anchor="start" >ASA</text>
<text transform="translate(68.90,1981.93) rotate(-90) scale(0.9692,1)" font-size="50.6" font-weight="bold" stroke="#000" stroke-width="1.2" stroke-linejoin="round" text-anchor="start" >Haemolysis</text>
<text transform="translate(68.90,1696.73) rotate(-90) scale(0.9326,1)" font-size="50.6" font-weight="bold" stroke="#000" stroke-width="1.2" stroke-linejoin="round" text-anchor="start" >at</text>
<text transform="translate(68.90,1641.26) rotate(-90) scale(0.9664,1)" font-size="50.6" font-weight="bold" stroke="#000" stroke-width="1.2" stroke-linejoin="round" text-anchor="start" >-20ºC</text>
<text transform="translate(68.90,1501.83) rotate(-90) scale(0.9087,1)" font-size="50.6" font-weight="bold" stroke="#000" stroke-width="1.2" stroke-linejoin="round" text-anchor="start" >[%</text>
<text transform="translate(68.90,1431.68) rotate(-90) scale(0.9241,1)" font-size="50.6" font-weight="bold" stroke="#000" stroke-width="1.2" stroke-linejoin="round" text-anchor="start" >of</text>
<text transform="translate(68.90,1378.49) rotate(-90) scale(0.9302,1)" font-size="50.6" font-weight="bold" stroke="#000" stroke-width="1.2" stroke-linejoin="round" text-anchor="start" >control]</text>
</svg>
</body>
</html>
